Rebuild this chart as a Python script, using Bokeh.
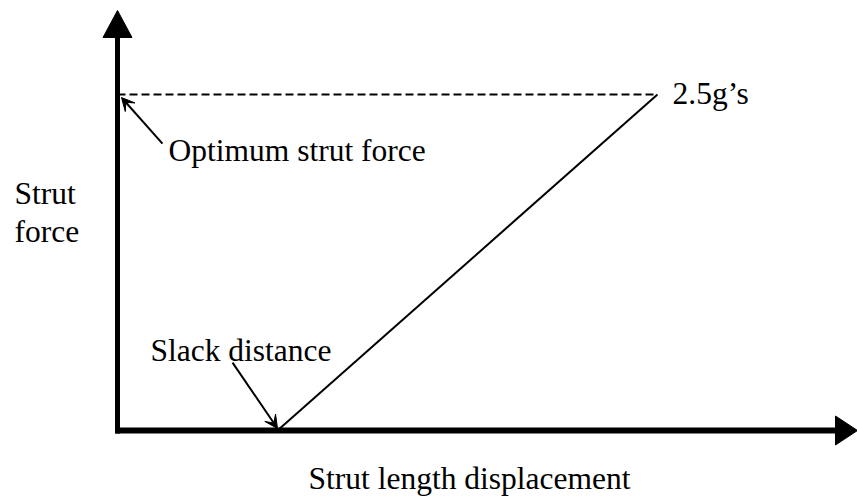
from bokeh.plotting import figure
from bokeh.models import Range1d, Arrow, VeeHead, ColumnDataSource
from bokeh.core.properties import value
from bokeh.embed import file_html
from bokeh.resources import INLINE

# ---- data (schematic units: displacement in slack units, force in optimum-force units)
slack_displacement = 1.0
peak_displacement = 3.375          # displacement at 2.5 g
optimum_force = 1.0
response_x = [slack_displacement, peak_displacement]
response_y = [0.0, optimum_force]
optimum_x = [0.0, peak_displacement]
optimum_y = [optimum_force, optimum_force]
x_axis_end = 4.625
y_axis_end = 1.25
labels = ["2.5g\u2019s", "Optimum strut force", "Slack distance", "Strut", "force",
          "Strut length displacement"]
label_x = [3.469, 0.319, 0.206, -0.644, -0.644, 1.194]
label_y = [1.0028, 0.8338, 0.2378, 0.7058, 0.5923, -0.1428]
arrow_start_x = [0.281, 0.719]
arrow_start_y = [0.854, 0.202]
arrow_end_x = [0.025, slack_displacement]
arrow_end_y = [0.991, 0.006]

W, H = 857, 497
p = figure(width=W, height=H, output_backend="svg", toolbar_location=None,
           x_range=Range1d(-0.73125, 4.625), y_range=Range1d(-0.19940, 1.27976),
           min_border=0, min_border_left=0, min_border_right=0,
           min_border_top=0, min_border_bottom=0)
p.axis.visible = False
p.grid.visible = False
p.outline_line_color = None
p.background_fill_color = "white"
p.border_fill_color = "white"

px_x = 1 / 160.0   # data units per pixel horizontally
px_y = 1 / 336.0   # data units per pixel vertically

# Axis shafts
p.line([0, 0], [-3 * px_y, y_axis_end - 27 * px_y], line_width=5, line_color="black", line_cap="butt")
p.line([-2 * px_x, x_axis_end - 21 * px_x], [0, 0], line_width=6, line_color="black", line_cap="butt")
# Axis arrowheads
p.patch([-14.5 * px_x, 14.5 * px_x, 0], [y_axis_end - 27 * px_y, y_axis_end - 27 * px_y, y_axis_end],
        fill_color="black", line_color="black", line_width=1)
p.patch([x_axis_end - 22 * px_x, x_axis_end - 22 * px_x, x_axis_end], [-14.5 * px_y, 14.5 * px_y, 0],
        fill_color="black", line_color="black", line_width=1)

# Dashed optimum force line
p.line(optimum_x, optimum_y, line_width=1.8, line_color="black", line_dash="8 4")
# Response line
p.line(response_x, response_y, line_width=2, line_color="black")

# Annotation arrows
for sx, sy, ex, ey in zip(arrow_start_x, arrow_start_y, arrow_end_x, arrow_end_y):
    p.add_layout(Arrow(x_start=sx, y_start=sy, x_end=ex, y_end=ey, line_width=2, line_color="black",
                       end=VeeHead(size=13, fill_color="black", line_color="black", line_width=1)))

src = ColumnDataSource(dict(x=label_x, y=label_y, t=labels))
p.text(x="x", y="y", text="t", source=src, text_font=value("Liberation Serif"),
       text_font_size="31.5px", text_color="black", text_baseline="alphabetic", text_align="left")

open("out.html", "w").write(file_html(p, INLINE))
